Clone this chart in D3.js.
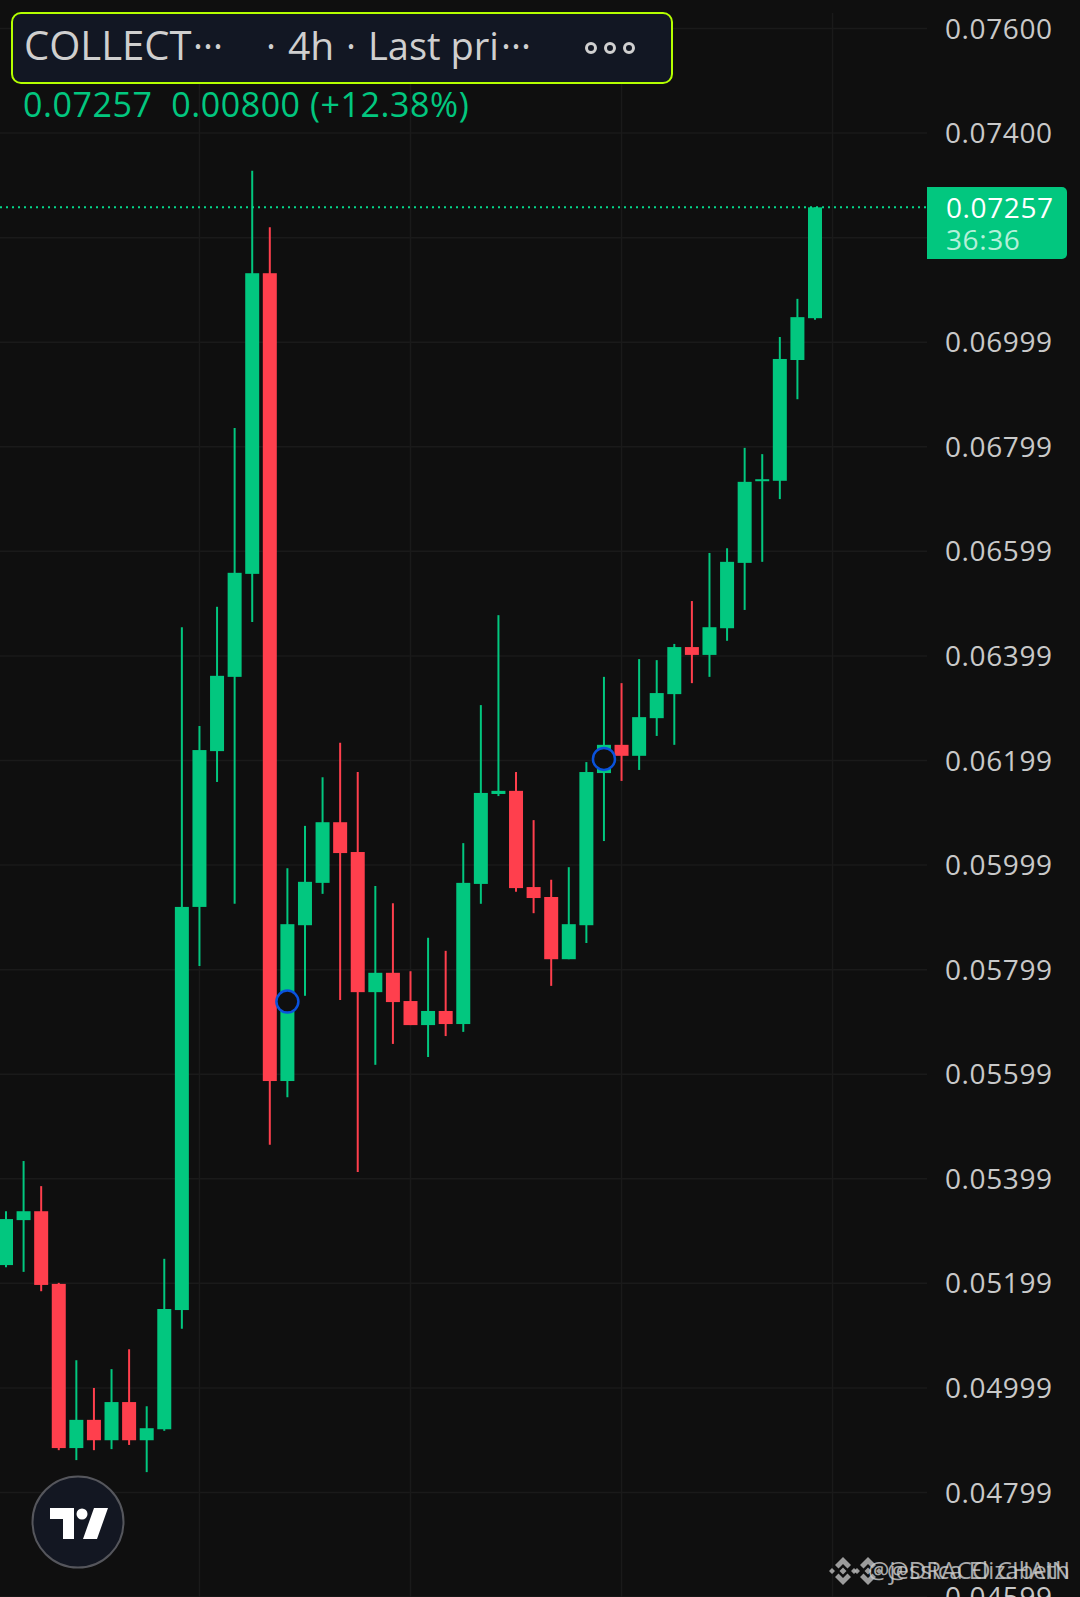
<!DOCTYPE html>
<html>
<head>
<meta charset="utf-8">
<title>COLLECT 4h</title>
<script src="https://cdnjs.cloudflare.com/ajax/libs/d3/7.8.5/d3.min.js"></script>
<style>
  html, body { margin: 0; padding: 0; background: #0f0f0f; }
  svg { display: block; }
  text { font-family: "Open Sans", "Noto Sans", sans-serif; }
</style>
</head>
<body>
<div id="chart"></div>
<script>
// Candles, left to right
const opens  = [.05234,.05320,.05337,.05198,.04884,.04938,.04899,.04972,.04899,.04920,.05148,.05919,.06217,.06359,.06556,.07131,.05586,.05884,.05965,.06081,.06024,.05756,.05793,.05739,.05693,.05720,.05695,.05963,.06135,.06141,.05957,.05938,.05819,.05884,.06175,.06229,.06208,.06280,.06326,.06416,.06401,.06452,.06577,.06734,.06734,.06965,.07045];
const highs  = [.05337,.05433,.05385,.05200,.05052,.04999,.05035,.05073,.04964,.05246,.06454,.06265,.06493,.06835,.07327,.07219,.05993,.06074,.06167,.06233,.06177,.05959,.05926,.05796,.05860,.05835,.06041,.06305,.06477,.06177,.06085,.05971,.05995,.06196,.06359,.06347,.06393,.06391,.06422,.06504,.06596,.06605,.06797,.06785,.07009,.07082,.07257];
const lows   = [.05230,.05221,.05184,.04880,.04861,.04880,.04882,.04890,.04838,.04917,.05112,.05806,.06158,.05925,.06464,.05464,.05555,.05749,.05944,.05741,.05412,.05617,.05657,.05693,.05632,.05672,.05680,.05925,.06131,.05948,.05907,.05768,.05819,.05850,.06045,.06160,.06181,.06246,.06229,.06347,.06359,.06428,.06487,.06579,.06699,.06890,.07042];
const closes = [.05322,.05337,.05196,.04884,.04938,.04899,.04972,.04899,.04922,.05150,.05919,.06219,.06361,.06558,.07131,.05586,.05886,.05967,.06081,.06022,.05756,.05793,.05737,.05693,.05720,.05695,.05965,.06137,.06141,.05955,.05936,.05819,.05886,.06177,.06229,.06208,.06282,.06328,.06416,.06401,.06454,.06579,.06732,.06737,.06967,.07047,.07257];

// Price axis: gridline prices and the labels shown beside them ("" = hidden behind the price tag)
const tickPrices = [.076,.074,.072,.070,.068,.066,.064,.062,.060,.058,.056,.054,.052,.050,.048,.046];
const tickLabels = ["0.07600","0.07400","","0.06999","0.06799","0.06599","0.06399","0.06199","0.05999","0.05799","0.05599","0.05399","0.05199","0.04999","0.04799","0.04599"];
const timeGridCandles = [11, 23, 35, 47];
const markerCandles = [16, 34];
const markerPrices = [.05738, .06202];

const lastPrice = 0.07257;
const lastPriceText = "0.07257";
const countdownText = "36:36";
const changeText = "0.07257  0.00800 (+12.38%)";
const watermarks = ["@DRACO CHAIN", "@jessica Elizabeth"];

const GREEN = "#02c77f", RED = "#ff3f4d", GRID = "#1a1a1a", BG = "#0f0f0f";
const width = 1080, height = 1597, axisX = 927;

const svg = d3.select("#chart").append("svg")
  .attr("width", width).attr("height", height);
svg.append("rect").attr("width", width).attr("height", height).attr("fill", BG);

const x = d3.scaleLinear().domain([0, 46]).range([6, 815]);
const y = d3.scaleLinear().domain([0.076, 0.048]).range([28, 1492]);

// grid
const yAxis = d3.axisRight(y).tickValues(tickPrices).tickSize(axisX).tickPadding(18)
  .tickFormat((d, i) => tickLabels[i]);
const gy = svg.append("g").call(yAxis);
gy.select(".domain").remove();
gy.selectAll("line").attr("stroke", GRID).attr("stroke-width", 1.5);
gy.selectAll("text").attr("fill", "#c9c9c9").attr("font-size", 28).attr("dy", "0.36em")
  .attr("letter-spacing", 0.6);

svg.append("g").selectAll("line").data(timeGridCandles).join("line")
  .attr("x1", d => x(d)).attr("x2", d => x(d))
  .attr("y1", 13).attr("y2", height)
  .attr("stroke", GRID).attr("stroke-width", 1.5);

// candles
const candles = d3.range(opens.length).map(i => ({
  i, o: opens[i], h: highs[i], l: lows[i], c: closes[i]
}));
const color = d => d.c >= d.o ? GREEN : RED;

svg.append("g").selectAll("line").data(candles).join("line")
  .attr("x1", d => x(d.i)).attr("x2", d => x(d.i))
  .attr("y1", d => y(d.h)).attr("y2", d => y(d.l))
  .attr("stroke", color).attr("stroke-width", 2);

svg.append("g").selectAll("rect").data(candles).join("rect")
  .attr("x", d => x(d.i) - 7).attr("width", 14)
  .attr("y", d => y(Math.max(d.o, d.c)))
  .attr("height", d => Math.max(2, Math.abs(y(d.o) - y(d.c))))
  .attr("fill", color);

// last price line + tag
svg.append("line")
  .attr("x1", 0).attr("x2", axisX).attr("y1", y(lastPrice)).attr("y2", y(lastPrice))
  .attr("stroke", "#04d88a").attr("stroke-width", 2).attr("stroke-dasharray", "2 4");

svg.append("path")
  .attr("d", "M927 187H1062a5 5 0 0 1 5 5V254a5 5 0 0 1 -5 5H927Z")
  .attr("fill", GREEN);
svg.append("text").attr("x", 946).attr("y", 218).attr("fill", "#fff").attr("font-size", 28)
  .attr("letter-spacing", 0.6).text(lastPriceText);
svg.append("text").attr("x", 946).attr("y", 250).attr("fill", "#b4f0d9").attr("font-size", 28)
  .attr("letter-spacing", 0.6).text(countdownText);

// event markers
markerCandles.forEach((c, i) => {
  svg.append("circle").attr("cx", x(c)).attr("cy", y(markerPrices[i])).attr("r", 11)
    .attr("fill", BG).attr("stroke", "#0a52dc").attr("stroke-width", 2.5);
});

// title box
svg.append("rect").attr("x", 12).attr("y", 13).attr("width", 660).attr("height", 70).attr("rx", 9)
  .attr("fill", "#121723").attr("stroke", "#b4ff00").attr("stroke-width", 2);
const titleParts = [["COLLECT", 24, 40], ["···", 193, 38], ["·", 266, 38], ["4h", 288, 39], ["·", 346, 38], ["Last pri", 368, 38], ["···", 501, 38]];
titleParts.forEach(p => {
  svg.append("text").attr("x", p[1]).attr("y", 60).attr("fill", "#cfcfcf").attr("font-size", p[2]).text(p[0]);
});
[591, 610, 629].forEach(cx => {
  svg.append("circle").attr("cx", cx).attr("cy", 48).attr("r", 4.5)
    .attr("fill", "none").attr("stroke", "#d0d0d0").attr("stroke-width", 3);
});
svg.append("text").attr("x", 23).attr("y", 117).attr("fill", GREEN).attr("font-size", 34)
  .attr("letter-spacing", 0.55).style("white-space", "pre").text(changeText);

// TradingView badge
svg.append("circle").attr("cx", 78).attr("cy", 1522).attr("r", 45.5)
  .attr("fill", "#131722").attr("stroke", "#55565c").attr("stroke-width", 2);
svg.append("path").attr("fill", "#fff")
  .attr("d", "M50 1508H74V1539H63V1519H50ZM94 1508H108L97 1539H83Z");
svg.append("circle").attr("cx", 82).attr("cy", 1514).attr("r", 5.5).attr("fill", "#fff");

// watermarks, drawn on top of each other
[843, 868].forEach(cx => {
  const g = svg.append("g").attr("transform", `translate(${cx},1571)`);
  g.append("path").attr("fill", "#b5b5b5").attr("fill-opacity", 0.85)
    .attr("d", "M0 -14L8 -6L4.5 -2.5L0 -7L-4.5 -2.5L-8 -6ZM0 14L8 6L4.5 2.5L0 7L-4.5 2.5L-8 6ZM0 -3.5L3.5 0L0 3.5L-3.5 0Z"
      + "M-11 -3L-8 0L-11 3L-14 0ZM11 -3L14 0L11 3L8 0Z");
});
svg.append("text").attr("x", 887).attr("y", 1579).attr("textLength", 183).attr("lengthAdjust", "spacingAndGlyphs")
  .attr("fill", "#d0d0d0").attr("font-size", 24).attr("opacity", 0.8).text(watermarks[0]);
svg.append("text").attr("x", 868).attr("y", 1579).attr("textLength", 202).attr("lengthAdjust", "spacingAndGlyphs")
  .attr("fill", "#d0d0d0").attr("font-size", 24).attr("opacity", 0.8).text(watermarks[1]);
</script>
</body>
</html>
